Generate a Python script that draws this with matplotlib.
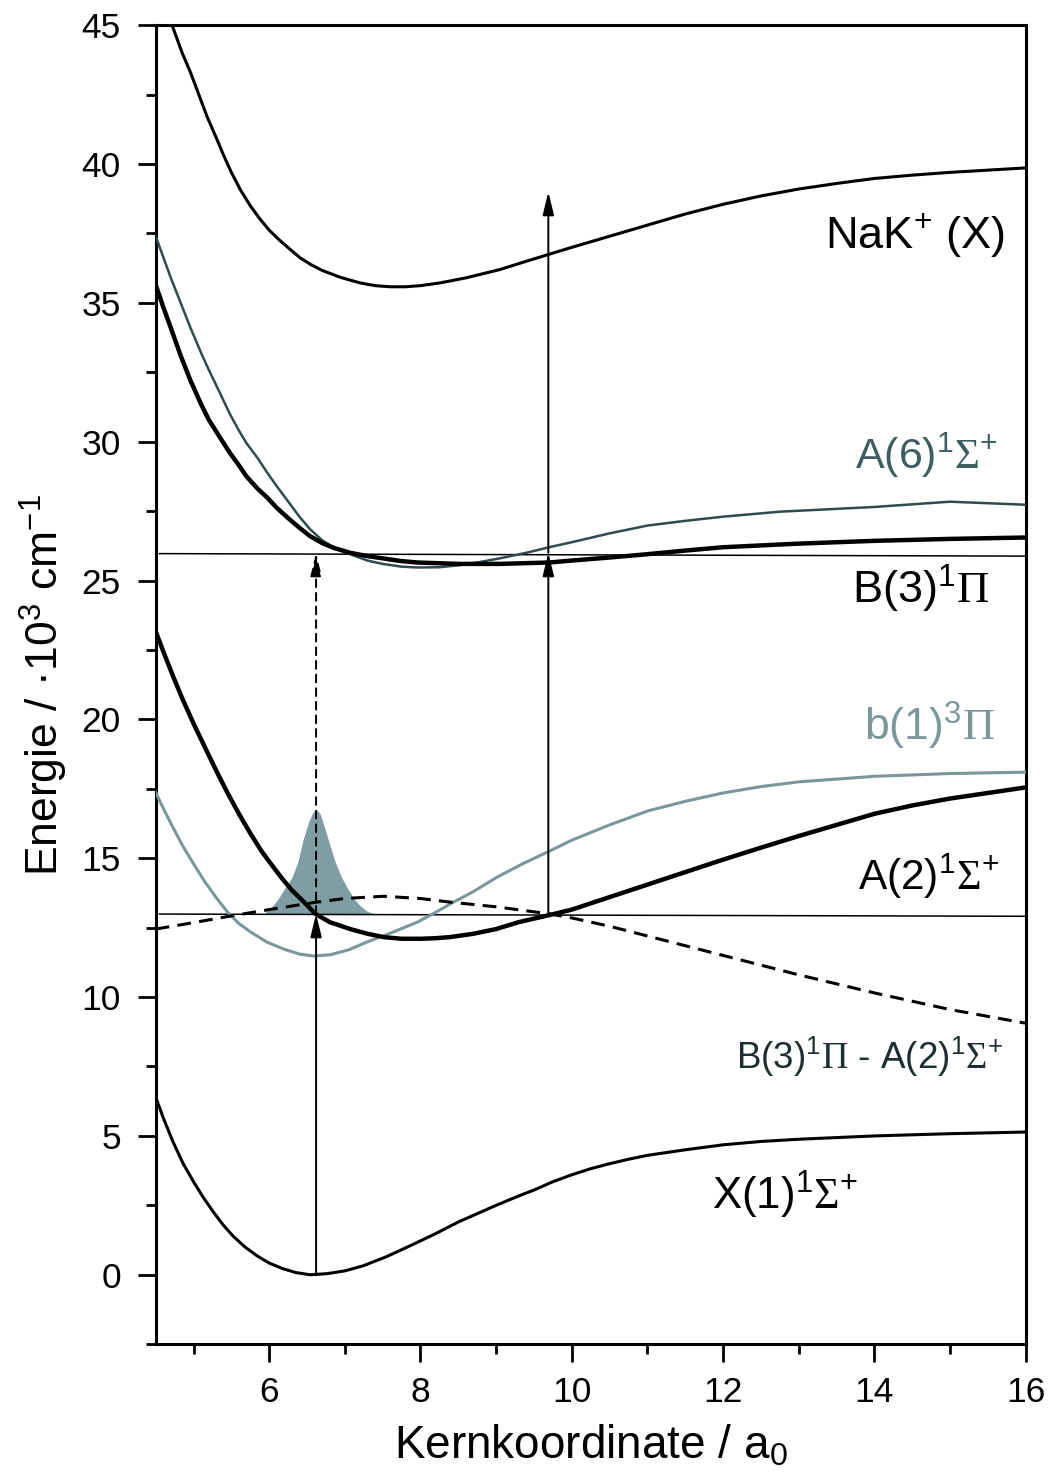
import matplotlib
matplotlib.use("Agg")
import matplotlib.pyplot as plt

plt.rcParams['font.family'] = ['Liberation Sans', 'DejaVu Sans']
plt.rcParams['mathtext.fontset'] = 'custom'
plt.rcParams['mathtext.rm'] = 'Liberation Serif'
plt.rcParams['mathtext.sf'] = 'Liberation Sans'
plt.rcParams['mathtext.it'] = 'Liberation Sans:italic'

# potential curves, energies in 10^3 cm^-1
nak_x = [4.65, 4.73, 4.85, 4.96, 5.07, 5.18, 5.3, 5.4, 5.5, 5.62, 5.75, 5.87, 6.0, 6.14, 6.28,
         6.41, 6.55, 6.7, 6.94, 7.2, 7.4, 7.6, 7.8, 8.0, 8.26, 8.6, 9.05, 9.4, 9.7, 10, 10.5,
         11, 11.5, 12, 12.5, 13, 13.5, 14, 14.5, 15, 15.5, 16]
nak_e = [45.6, 44.9, 44.0, 43.3, 42.5, 41.7, 40.95, 40.3, 39.7, 39.07, 38.5, 38.05, 37.62,
         37.25, 36.92, 36.62, 36.38, 36.17, 35.92, 35.72, 35.62, 35.58, 35.58, 35.62, 35.72,
         35.9, 36.2, 36.5, 36.75, 37.0, 37.4, 37.8, 38.2, 38.55, 38.85, 39.1, 39.3, 39.48,
         39.6, 39.7, 39.78, 39.86]

b3_x = [4.5, 4.6, 4.7, 4.83, 4.96, 5.1, 5.2, 5.35, 5.48, 5.6, 5.7, 5.85, 5.97, 6.1, 6.25,
        6.4, 6.54, 6.7, 6.85, 7.07, 7.3, 7.5, 7.75, 7.96, 8.5, 9.05, 9.7, 10, 10.5, 11, 11.5,
        12, 13, 14, 15, 16]
b3_e = [35.65, 34.85, 34.1, 33.1, 32.2, 31.35, 30.8, 30.15, 29.6, 29.15, 28.75, 28.3, 28.0,
        27.62, 27.25, 26.9, 26.6, 26.35, 26.18, 26.0, 25.88, 25.8, 25.7, 25.65, 25.6, 25.6,
        25.65, 25.72, 25.83, 25.95, 26.08, 26.2, 26.33, 26.43, 26.5, 26.55]

a6_x = [4.5, 4.6, 4.7, 4.83, 4.96, 5.1, 5.2, 5.35, 5.48, 5.6, 5.7, 5.85, 5.97, 6.1, 6.25,
        6.4, 6.54, 6.7, 6.85, 7.07, 7.3, 7.5, 7.75, 7.96, 8.25, 8.5, 8.75, 9.05, 9.4, 9.7, 10,
        10.5, 11, 11.5, 12, 12.75, 14, 15, 16]
a6_e = [37.4, 36.65, 35.9, 35.0, 34.1, 33.2, 32.6, 31.75, 31.0, 30.4, 29.95, 29.4, 28.9,
        28.4, 27.85, 27.3, 26.85, 26.45, 26.2, 25.95, 25.72, 25.6, 25.5, 25.47, 25.48, 25.55,
        25.65, 25.8, 26.0, 26.2, 26.38, 26.7, 26.98, 27.15, 27.3, 27.48, 27.65, 27.84, 27.73]

a2_x = [4.5, 4.6, 4.73, 4.86, 5.0, 5.15, 5.31, 5.45, 5.6, 5.75, 5.9, 6.05, 6.18, 6.3, 6.45,
        6.61, 6.8, 7.07, 7.3, 7.51, 7.75, 8.0, 8.2, 8.39, 8.7, 9.0, 9.3, 9.7, 10, 10.5, 11,
        11.5, 12, 12.5, 13, 13.5, 14, 14.5, 15, 15.5, 16]
a2_e = [23.17, 22.45, 21.55, 20.7, 19.85, 19.0, 18.1, 17.35, 16.6, 15.9, 15.25, 14.7, 14.24,
        13.85, 13.45, 13.0, 12.7, 12.45, 12.28, 12.16, 12.1, 12.1, 12.12, 12.16, 12.28, 12.45,
        12.7, 12.95, 13.15, 13.6, 14.05, 14.5, 14.95, 15.38, 15.8, 16.2, 16.6, 16.9, 17.15,
        17.35, 17.55]

b1_x = [4.5, 4.6, 4.73, 4.86, 5.0, 5.15, 5.3, 5.45, 5.6, 5.75, 5.97, 6.2, 6.4, 6.58, 6.8,
        7.05, 7.29, 7.6, 7.96, 8.2, 8.39, 8.7, 9.0, 9.35, 9.7, 10, 10.5, 11, 11.5, 12, 12.5,
        13, 14, 15, 16]
b1_e = [17.37, 16.8, 16.1, 15.43, 14.8, 14.15, 13.58, 13.06, 12.65, 12.35, 11.98, 11.72,
        11.55, 11.48, 11.52, 11.7, 11.98, 12.3, 12.7, 13.05, 13.35, 13.8, 14.3, 14.8, 15.25,
        15.65, 16.2, 16.7, 17.05, 17.35, 17.58, 17.75, 17.95, 18.05, 18.1]

diff_x = [4.5, 5.0, 5.45, 6.0, 6.63, 7.0, 7.51, 8.0, 8.39, 9.0, 9.7, 10, 10.5, 11, 11.5, 12,
          13, 14, 15, 16]
diff_e = [12.45, 12.68, 12.9, 13.15, 13.42, 13.55, 13.63, 13.55, 13.42, 13.25, 13.0, 12.85,
          12.55, 12.2, 11.85, 11.5, 10.8, 10.15, 9.55, 9.06]

x1_x = [4.5, 4.6, 4.73, 4.86, 5.0, 5.13, 5.26, 5.39, 5.52, 5.68, 5.84, 6.0, 6.18, 6.35, 6.54,
        6.77, 7.0, 7.24, 7.55, 7.86, 8.2, 8.5, 9.0, 9.3, 9.5, 9.75, 10, 10.25, 10.5, 10.75, 11,
        11.5, 12, 12.5, 13, 14, 15, 16]
x1_e = [6.4, 5.65, 4.78, 4.02, 3.35, 2.78, 2.27, 1.8, 1.4, 1.0, 0.68, 0.42, 0.22, 0.08, 0.0,
        0.04, 0.14, 0.32, 0.65, 1.04, 1.48, 1.9, 2.5, 2.84, 3.05, 3.35, 3.6, 3.82, 4.0, 4.16,
        4.3, 4.5, 4.68, 4.8, 4.88, 5.0, 5.08, 5.14]

# wave packet on A(2) at the first photon energy
wp_x = [5.95, 6.05, 6.12, 6.2, 6.3, 6.38, 6.45, 6.52, 6.57, 6.62, 6.67, 6.71, 6.78, 6.87,
        6.95, 7.04, 7.12, 7.2, 7.3, 7.4]
wp_h = [0.05, 0.3, 0.54, 0.9, 1.3, 1.88, 2.68, 3.3, 3.62, 3.76, 3.62, 3.3, 2.68, 1.88, 1.35,
        0.9, 0.54, 0.3, 0.08, 0.0]
wp_base = 13.0

# photon energy levels
level_x = [4.55, 16]
level1_e = [12.99, 12.91]
level2_e = [25.97, 25.88]

# transitions: (x, from, to, dashed)
arrows = [(6.62, 0.0, 13.0, False), (6.62, 13.0, 26.0, True),
          (9.69, 13.0, 26.0, False), (9.69, 26.0, 39.0, False)]

c_a6 = '#2f4b4d'
c_b1 = '#7a979c'
c_wp = '#7f9ea3'

fig = plt.figure(figsize=(10.52, 14.82), dpi=100)
ax = fig.add_axes([0.148, 0.093, 0.827, 0.890])

ax.fill_between(wp_x, wp_base, [wp_base + h for h in wp_h], color=c_wp, lw=0, zorder=1)

ax.plot(level_x, level1_e, color='black', lw=1.1, zorder=2)
ax.plot(level_x, level2_e, color='black', lw=1.1, zorder=2)

ax.plot(nak_x, nak_e, color='black', lw=2.2, zorder=3)
ax.plot(a6_x, a6_e, color=c_a6, lw=1.8, zorder=3)
ax.plot(b3_x, b3_e, color='black', lw=3.2, zorder=3)
ax.plot(b1_x, b1_e, color=c_b1, lw=2.2, zorder=3)
ax.plot(a2_x, a2_e, color='black', lw=3.2, zorder=3)
ax.plot(diff_x, diff_e, color='black', lw=2.2, ls=(0, (4.5, 2.7)), zorder=3)
ax.plot(x1_x, x1_e, color='black', lw=2.2, zorder=3)

for x, e0, e1, dashed in arrows:
    ax.annotate('', xy=(x, e1), xytext=(x, e0),
                arrowprops=dict(arrowstyle='-|>,head_length=0.7,head_width=0.17',
                                color='black', lw=1.4, shrinkA=0, shrinkB=0,
                                mutation_scale=20,
                                linestyle=(0, (4, 3)) if dashed else '-'),
                zorder=4)

ax.text(15.72, 37.45, r'NaK$^{\mathsf{+}}$ (X)', fontsize=32.5, ha='right', va='center')
ax.text(15.63, 29.5, r'A(6)$^{\mathsf{1}}\Sigma^{\mathsf{+}}$', fontsize=31, ha='right',
        va='center', color='#3d5e60')
ax.text(15.52, 24.7, r'B(3)$^{\mathsf{1}}\Pi$', fontsize=32.5, ha='right', va='center')
ax.text(15.59, 19.75, r'b(1)$^{\mathsf{3}}\Pi$', fontsize=32, ha='right', va='center',
        color=c_b1)
ax.text(15.65, 14.35, r'A(2)$^{\mathsf{1}}\Sigma^{\mathsf{+}}$', fontsize=30.5, ha='right',
        va='center')
ax.text(15.7, 7.84, r'B(3)$^{\mathsf{1}}\Pi$ - A(2)$^{\mathsf{1}}\Sigma^{\mathsf{+}}$',
        fontsize=26.5, ha='right', va='center', color='#1c2e2f')
ax.text(13.78, 2.88, r'X(1)$^{\mathsf{1}}\Sigma^{\mathsf{+}}$', fontsize=31.5, ha='right',
        va='center')

ax.set_xlim(4.5, 16)
ax.set_ylim(-2.45, 45)
ax.set_xticks([6, 8, 10, 12, 14, 16])
ax.set_xticks([5, 7, 9, 11, 13, 15], minor=True)
ax.set_yticks(range(0, 46, 5))
ax.set_yticks([-2.5 + 5 * i for i in range(10)], minor=True)

ax.tick_params(which='both', direction='out', width=2.0, labelsize=25.5, top=False,
               right=False)
ax.tick_params(which='major', length=13)
ax.tick_params(which='minor', length=7.5)
ax.tick_params(axis='y', pad=12)
ax.tick_params(axis='x', pad=10)
for s in ax.spines.values():
    s.set_linewidth(2.2)

ax.set_xlabel(r'Kernkoordinate / a$_{\mathsf{0}}$', fontsize=33, labelpad=10)
ax.set_ylabel(r'Energie / ·10$^{\mathsf{3}}$ cm$^{\mathsf{-1}}$', fontsize=32, labelpad=8)

fig.savefig('out.png', dpi=100)
